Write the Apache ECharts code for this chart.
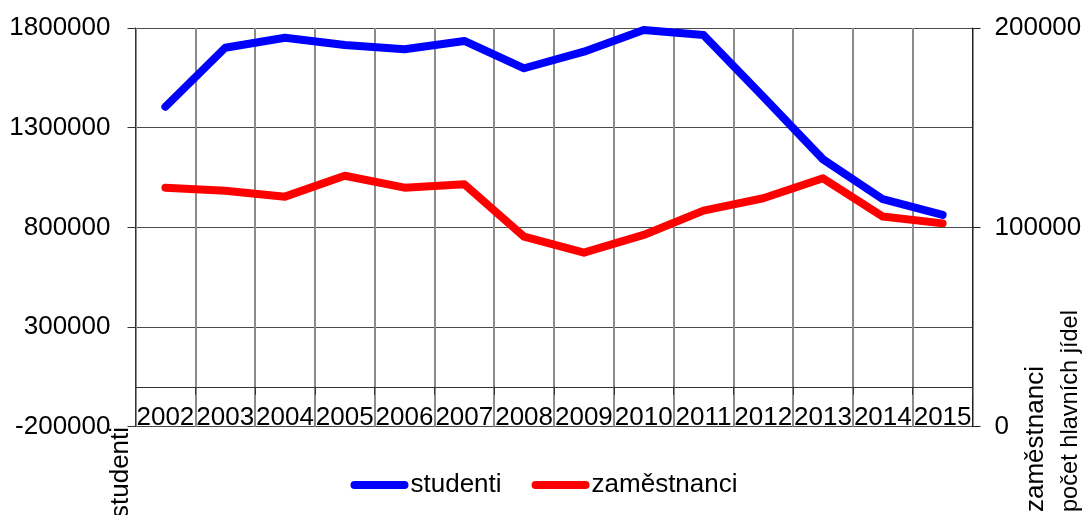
<!DOCTYPE html>
<html>
<head>
<meta charset="utf-8">
<script src="https://cdn.jsdelivr.net/npm/echarts@6/dist/echarts.min.js"></script>
<style>
  html, body { margin: 0; padding: 0; background: #fff; }
  #chart { width: 1088px; height: 515px; }
</style>
</head>
<body>
<div id="chart"></div>
<script>
var years = ['2002', '2003', '2004', '2005', '2006', '2007', '2008', '2009', '2010', '2011', '2012', '2013', '2014', '2015'];
// studenti (left axis)
var studenti = [1405000, 1701000, 1751000, 1715000, 1693000, 1735000, 1598000, 1681000, 1790000, 1765000, 1455000, 1141000, 941000, 862000];
// zaměstnanci (right axis)
var zamestnanci = [119900, 118400, 115400, 125900, 119900, 121600, 95300, 87300, 96200, 108400, 114600, 124600, 105400, 102000];

var font = 'Liberation Sans, Arial, sans-serif';
var chart = echarts.init(document.getElementById('chart'));

function plain(v) {
    return String(v);
}

// rounded line used as legend marker
var capsule = 'path://M4,0 L54,0 A4,4 0 0 1 54,8 L4,8 A4,4 0 0 1 4,0 Z';

var option = {
    animation: false,
    textStyle: {fontFamily: font, color: '#000'},
    grid: {left: 135.5, right: 115.5, top: 28, bottom: 88.3, containLabel: false},
    legend: {
        data: [{name: 'studenti', icon: capsule}, {name: 'zaměstnanci', icon: capsule}],
        left: 'center',
        top: 467,
        itemWidth: 58,
        itemHeight: 8,
        itemGap: 30,
        textStyle: {fontSize: 26, color: '#000', fontFamily: font, padding: [0, 0, 0, -3]}
    },
    xAxis: {
        type: 'category',
        data: years,
        boundaryGap: true,
        axisLine: {onZero: true, onZeroAxisIndex: 0, lineStyle: {color: '#333', width: 1}},
        axisTick: {show: true, length: 8, lineStyle: {color: '#333'}},
        axisLabel: {fontSize: 26, color: '#000', margin: -22, interval: 0, fontFamily: font},
        splitLine: {show: true, lineStyle: {color: '#8c8c8c', width: 2}}
    },
    yAxis: [
        {
            type: 'value',
            min: -200000,
            max: 1800000,
            interval: 500000,
            axisLine: {show: true, lineStyle: {color: '#333'}},
            axisTick: {show: true, length: 8, lineStyle: {color: '#333'}},
            axisLabel: {fontSize: 26, color: '#000', margin: 25, fontFamily: font, formatter: plain},
            splitLine: {show: true, lineStyle: {color: '#4a4a4a', width: 1}}
        },
        {
            type: 'value',
            min: 0,
            max: 200000,
            interval: 100000,
            position: 'right',
            axisLine: {show: true, lineStyle: {color: '#222'}},
            axisTick: {show: true, length: 8, lineStyle: {color: '#222'}},
            axisLabel: {fontSize: 26, color: '#000', margin: 22, fontFamily: font, formatter: plain},
            splitLine: {show: false}
        }
    ],
    graphic: [
        {type: 'text', x: 121, y: 518, rotation: Math.PI / 2,
         style: {text: 'studenti', fontSize: 26, fontFamily: font, fill: '#000', align: 'left', verticalAlign: 'middle'}},
        {type: 'text', x: 1036, y: 512, rotation: Math.PI / 2,
         style: {text: 'zaměstnanci', fontSize: 26, fontFamily: font, fill: '#000', align: 'left', verticalAlign: 'middle'}},
        {type: 'text', x: 1070, y: 512, rotation: Math.PI / 2,
         style: {text: 'počet hlavních jídel', fontSize: 23.6, fontFamily: font, fill: '#000', align: 'left', verticalAlign: 'middle'}}
    ],
    series: [
        {
            name: 'studenti',
            type: 'line',
            yAxisIndex: 0,
            data: studenti,
            symbol: 'none',
            color: '#0000ff',
            lineStyle: {width: 8, color: '#0000ff', cap: 'round', join: 'round'}
        },
        {
            name: 'zaměstnanci',
            type: 'line',
            yAxisIndex: 1,
            data: zamestnanci,
            symbol: 'none',
            color: '#ff0000',
            lineStyle: {width: 8, color: '#ff0000', cap: 'round', join: 'round'}
        }
    ]
};

chart.setOption(option);
</script>
</body>
</html>
